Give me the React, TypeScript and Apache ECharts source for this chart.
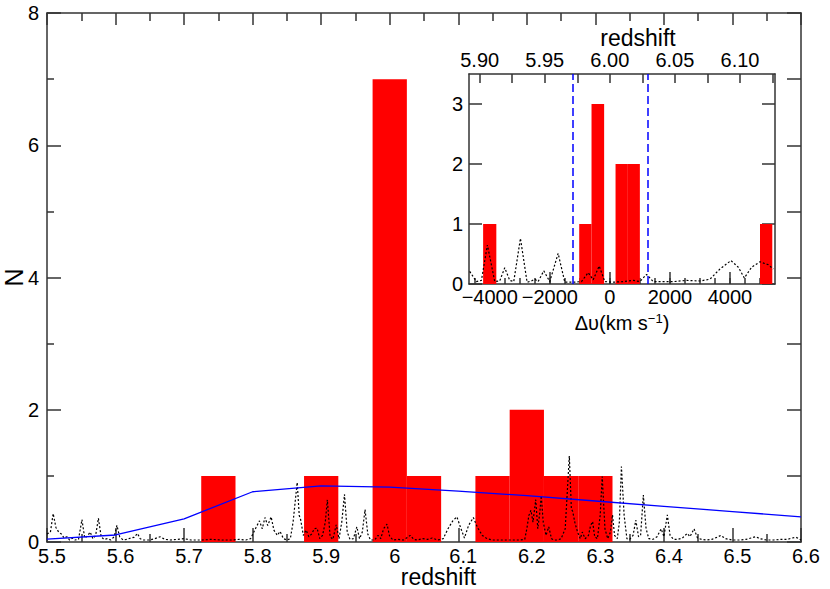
import React, { useEffect, useRef } from "react";
import * as echarts from "echarts";

// ---------- Main panel data ----------
const mainBinCenters = [5.75, 5.9, 6.0, 6.05, 6.15, 6.2, 6.25, 6.3];
const mainBinCounts = [1, 1, 7, 1, 1, 2, 1, 1];
const mainBinWidth = 0.05;

const expectedZ = [5.5, 5.6, 5.7, 5.8, 5.9, 6.0, 6.1, 6.2, 6.3, 6.4, 6.5, 6.6];
const expectedN = [0.045, 0.106, 0.35, 0.76, 0.85, 0.83, 0.77, 0.7, 0.62, 0.54, 0.46, 0.38];

const mainSpectrum: [number, number][] = [
  [5.5, 0.12], [5.505, 0.15], [5.509, 0.43], [5.513, 0.22], [5.517, 0.15], [5.521, 0.12],
  [5.525, 0.06], [5.529, 0.08], [5.533, 0.03], [5.537, 0.06], [5.541, 0.03], [5.546, 0.04],
  [5.551, 0.34], [5.555, 0.06], [5.559, 0.09], [5.563, 0.15], [5.567, 0.05], [5.571, 0.1],
  [5.575, 0.36], [5.579, 0.08], [5.583, 0.04], [5.588, 0.05], [5.593, 0.03], [5.598, 0.08],
  [5.602, 0.25], [5.606, 0.08], [5.611, 0.03], [5.617, 0.04], [5.622, 0.06], [5.627, 0.07],
  [5.632, 0.13], [5.636, 0.05], [5.641, 0.03], [5.65, 0.03], [5.657, 0.05], [5.665, 0.08],
  [5.672, 0.04], [5.68, 0.03], [5.69, 0.04], [5.7, 0.05], [5.71, 0.03], [5.725, 0.03],
  [5.74, 0.04], [5.755, 0.03], [5.77, 0.03], [5.78, 0.04], [5.79, 0.03], [5.797, 0.05],
  [5.805, 0.22], [5.81, 0.32], [5.814, 0.2], [5.818, 0.37], [5.822, 0.25], [5.827, 0.38],
  [5.831, 0.18], [5.836, 0.1], [5.84, 0.16], [5.845, 0.05], [5.85, 0.03], [5.855, 0.05],
  [5.859, 0.3], [5.865, 0.9], [5.868, 0.4], [5.87, 0.34], [5.874, 0.1], [5.878, 0.18],
  [5.882, 0.08], [5.886, 0.12], [5.89, 0.2], [5.894, 0.21], [5.898, 0.05], [5.902, 0.1],
  [5.906, 0.3], [5.909, 0.64], [5.913, 0.08], [5.917, 0.04], [5.922, 0.26], [5.926, 0.05],
  [5.93, 0.3], [5.934, 0.72], [5.938, 0.15], [5.942, 0.04], [5.947, 0.05], [5.952, 0.23],
  [5.956, 0.05], [5.96, 0.15], [5.964, 0.49], [5.968, 0.12], [5.972, 0.03], [5.978, 0.03],
  [5.983, 0.1], [5.987, 0.05], [5.991, 0.2], [5.996, 0.27], [6.0, 0.08], [6.005, 0.03],
  [6.012, 0.04], [6.02, 0.03], [6.026, 0.07], [6.03, 0.1], [6.035, 0.04], [6.04, 0.03],
  [6.048, 0.05], [6.055, 0.04], [6.062, 0.06], [6.07, 0.03], [6.078, 0.05], [6.085, 0.2],
  [6.092, 0.32], [6.098, 0.38], [6.104, 0.2], [6.109, 0.06], [6.115, 0.25], [6.122, 0.37],
  [6.128, 0.22], [6.135, 0.1], [6.142, 0.05], [6.15, 0.03], [6.16, 0.03], [6.17, 0.03],
  [6.18, 0.03], [6.19, 0.03], [6.197, 0.04], [6.2, 0.2], [6.203, 0.4], [6.206, 0.48],
  [6.209, 0.3], [6.213, 0.64], [6.216, 0.2], [6.219, 0.45], [6.221, 0.7], [6.224, 0.3],
  [6.228, 0.1], [6.232, 0.23], [6.236, 0.05], [6.24, 0.03], [6.245, 0.03], [6.25, 0.05],
  [6.256, 0.2], [6.262, 1.3], [6.265, 0.5], [6.267, 0.46], [6.27, 0.3], [6.274, 0.15],
  [6.278, 0.05], [6.281, 0.15], [6.285, 0.05], [6.29, 0.1], [6.293, 0.25], [6.296, 0.31],
  [6.299, 0.08], [6.303, 0.05], [6.307, 0.4], [6.31, 0.99], [6.314, 0.2], [6.318, 0.05],
  [6.322, 0.15], [6.325, 0.41], [6.328, 0.1], [6.332, 0.05], [6.335, 0.3], [6.338, 1.14],
  [6.342, 0.4], [6.346, 0.05], [6.35, 0.04], [6.355, 0.1], [6.359, 0.33], [6.363, 0.08],
  [6.366, 0.1], [6.37, 0.71], [6.374, 0.2], [6.378, 0.05], [6.384, 0.04], [6.39, 0.08],
  [6.396, 0.2], [6.4, 0.08], [6.405, 0.41], [6.409, 0.1], [6.414, 0.04], [6.42, 0.04],
  [6.427, 0.06], [6.434, 0.13], [6.438, 0.08], [6.444, 0.2], [6.449, 0.06], [6.455, 0.04],
  [6.462, 0.03], [6.47, 0.04], [6.477, 0.07], [6.483, 0.1], [6.49, 0.05], [6.5, 0.03],
  [6.51, 0.03], [6.52, 0.04], [6.527, 0.06], [6.534, 0.08], [6.54, 0.05], [6.55, 0.03],
  [6.56, 0.03], [6.57, 0.04], [6.58, 0.04], [6.587, 0.06], [6.593, 0.07], [6.6, 0.03],
];

// ---------- Inset data (velocity offset, km/s) ----------
const insetBinStart = [-4220, -1020, -610, 190, 600, 5000];
const insetBinEnd = [-3780, -610, -190, 600, 1000, 5410];
const insetCounts = [1, 1, 3, 2, 2, 1];

const insetSpectrum: [number, number][] = [
  [-4667, 0.21], [-4443, 0.04], [-4277, 0.06], [-4077, 0.65], [-3833, 0.04], [-3667, 0.05],
  [-3500, 0.27], [-3333, 0.06], [-3200, 0.04], [-2977, 0.76], [-2756, 0.03], [-2611, 0.05],
  [-2500, 0.08], [-2389, 0.04], [-2200, 0.22], [-2000, 0.04], [-1722, 0.51], [-1500, 0.03],
  [-1222, 0.03], [-944, 0.04], [-722, 0.19], [-555, 0.07], [-355, 0.3], [-167, 0.04],
  [111, 0.03], [444, 0.04], [778, 0.06], [1000, 0.04], [1222, 0.16], [1444, 0.04],
  [2111, 0.04], [2555, 0.06], [3000, 0.05], [3333, 0.08], [3667, 0.25], [4033, 0.39],
  [4278, 0.28], [4478, 0.1], [4722, 0.28], [5000, 0.37], [5278, 0.32], [5444, 0.25],
];

const windowEdges = [-1250, 1250];

const insetVelLabels = [-4000, -2000, 0, 2000, 4000];
const insetVelMinorTicks = [-4500, -4000, -3500, -3000, -2500, -2000, -1500, -1000, -500, 0, 500, 1000, 1500, 2000, 2500, 3000, 3500, 4000, 4500, 5000];
const insetZLabels = [5.9, 5.95, 6.0, 6.05, 6.1];
const insetZTicks = [5.9, 5.925, 5.95, 5.975, 6.0, 6.025, 6.05, 6.075, 6.1, 6.125];
const insetNTicks = [0, 1, 2, 3];

const FONT = "Liberation Sans, Arial, Helvetica, sans-serif";
const AX = "#333";

export default function App() {
  const ref = useRef<HTMLDivElement>(null);
  useEffect(() => {
    if (!ref.current) return;
    const chart = echarts.init(ref.current, undefined, { renderer: "svg" });

    const barRender = (color: string) => (params: any, api: any) => {
      const p0 = api.coord([api.value(0), 0]);
      const p1 = api.coord([api.value(1), api.value(2)]);
      return {
        type: "rect",
        shape: { x: p0[0], y: p1[1], width: p1[0] - p0[0], height: p0[1] - p1[1] },
        style: { fill: color },
      };
    };

    const mainBins = mainBinCenters.map((c, i) => [c - mainBinWidth / 2, c + mainBinWidth / 2, mainBinCounts[i]]);
    const insetBins = insetBinStart.map((s, i) => [s, insetBinEnd[i], insetCounts[i]]);

    const lineAx = { show: true, onZero: false, lineStyle: { color: AX, width: 1.5 } };
    const lbl = { color: "#000", fontSize: 20, lineHeight: 16, fontFamily: FONT, hideOverlap: false };
    const tickStyle = { color: AX, width: 1.5 };
    const titleStyle = { color: "#000", fontSize: 23, lineHeight: 18, fontFamily: FONT };

    const option: any = {
      animation: false,
      backgroundColor: "#fff",
      grid: [
        { left: 47, top: 13, width: 754, height: 529, containLabel: false, outerBoundsMode: "none" },
        { left: 469, top: 74, width: 306, height: 210, containLabel: false, outerBoundsMode: "none" },
      ],
      xAxis: [
        {
          gridIndex: 0, type: "value", position: "bottom", min: 5.5, max: 6.6, interval: 0.1,
          axisLine: lineAx,
          axisTick: { show: true, inside: true, length: 14, lineStyle: tickStyle },
          minorTick: { show: true, splitNumber: 2, length: 8, lineStyle: tickStyle },
          splitLine: { show: false }, minorSplitLine: { show: false },
          axisLabel: { ...lbl, margin: 6, padding: [0, 0, 0, 10] },
          name: "redshift", nameLocation: "middle", nameGap: 26, nameMoveOverlap: false,
          nameTextStyle: { ...titleStyle, padding: [0, 0, 0, 29] },
        },
        {
          gridIndex: 0, type: "value", position: "top", min: 5.5, max: 6.6, interval: 0.1,
          axisLine: lineAx,
          axisTick: { show: true, inside: true, length: 12, lineStyle: tickStyle },
          minorTick: { show: true, splitNumber: 2, length: 8, lineStyle: tickStyle },
          splitLine: { show: false }, axisLabel: { show: false },
        },
        {
          gridIndex: 1, type: "value", position: "bottom", min: -4690, max: 5500,
          axisLine: lineAx,
          axisTick: { show: true, inside: true, length: 12, customValues: insetVelLabels, lineStyle: tickStyle },
          splitLine: { show: false },
          axisLabel: {
            ...lbl, margin: 5, customValues: insetVelLabels,
            formatter: (v: number) => (v < 0 ? "\u2212" + Math.abs(v) : String(v)),
          },
          name: "{a|\u0394\u03c5(km s}{sup|\u22121}{a|)}", nameLocation: "middle", nameGap: 28, nameMoveOverlap: false,
          nameTextStyle: {
            color: "#000", fontFamily: FONT,
            rich: {
              a: { fontSize: 20, fontFamily: FONT, color: "#000" },
              sup: { fontSize: 13, fontFamily: FONT, color: "#000", verticalAlign: "top", padding: [0, 0, 8, 0] },
            },
          },
        },
        {
          gridIndex: 1, type: "value", position: "bottom", min: -4690, max: 5500,
          axisLine: { show: false },
          axisTick: { show: true, inside: true, length: 6, customValues: insetVelMinorTicks, lineStyle: tickStyle },
          splitLine: { show: false }, axisLabel: { show: false },
        },
        {
          gridIndex: 1, type: "value", position: "top", min: 5.8918, max: 6.1269,
          axisLine: lineAx,
          axisTick: { show: true, inside: true, length: 9, customValues: insetZTicks, lineStyle: tickStyle },
          splitLine: { show: false },
          axisLabel: { ...lbl, margin: 6, customValues: insetZLabels, formatter: (v: number) => v.toFixed(2) },
          name: "redshift", nameLocation: "middle", nameGap: 27, nameMoveOverlap: false,
          nameTextStyle: { ...titleStyle, padding: [0, 0, 0, 32] },
        },
      ],
      yAxis: [
        {
          gridIndex: 0, type: "value", position: "left", min: 0, max: 8, interval: 2,
          axisLine: lineAx,
          axisTick: { show: true, inside: true, length: 14, lineStyle: tickStyle },
          minorTick: { show: true, splitNumber: 2, length: 7, lineStyle: tickStyle },
          splitLine: { show: false }, minorSplitLine: { show: false },
          axisLabel: { ...lbl, margin: 8 },
          name: "N", nameLocation: "middle", nameGap: 24, nameRotate: 90, nameMoveOverlap: false,
          nameTextStyle: { ...titleStyle, fontSize: 25 },
        },
        {
          gridIndex: 0, type: "value", position: "right", min: 0, max: 8, interval: 1,
          axisLine: lineAx,
          axisTick: { show: true, inside: true, length: 14, lineStyle: tickStyle },
          splitLine: { show: false }, axisLabel: { show: false },
        },
        {
          gridIndex: 1, type: "value", position: "left", min: 0, max: 3.5,
          axisLine: lineAx,
          axisTick: { show: true, inside: true, length: 13, customValues: insetNTicks, lineStyle: tickStyle },
          splitLine: { show: false },
          axisLabel: { ...lbl, margin: 6, customValues: insetNTicks },
        },
        {
          gridIndex: 1, type: "value", position: "right", min: 0, max: 3.5,
          axisLine: lineAx,
          axisTick: { show: true, inside: true, length: 13, customValues: insetNTicks, lineStyle: tickStyle },
          splitLine: { show: false }, axisLabel: { show: false },
        },
      ],
      series: [
        {
          type: "custom", xAxisIndex: 0, yAxisIndex: 0, renderItem: barRender("#ff0000"),
          encode: { x: [0, 1], y: 2 }, data: mainBins, z: 1,
        },
        {
          type: "line", xAxisIndex: 0, yAxisIndex: 0, symbol: "none", z: 3,
          lineStyle: { color: "#0000ff", width: 1.3 },
          data: expectedZ.map((z, i) => [z, expectedN[i]]),
        },
        {
          type: "line", xAxisIndex: 0, yAxisIndex: 0, symbol: "none", z: 2,
          lineStyle: { color: "#000", width: 1.2, type: [2, 2] },
          data: mainSpectrum,
        },
        {
          type: "custom", xAxisIndex: 2, yAxisIndex: 2, renderItem: barRender("#ff0000"),
          encode: { x: [0, 1], y: 2 }, data: insetBins, z: 1,
        },
        {
          type: "line", xAxisIndex: 2, yAxisIndex: 2, symbol: "none", z: 2,
          lineStyle: { color: "#000", width: 1.2, type: [2, 2] },
          data: insetSpectrum,
          markLine: {
            silent: true, symbol: ["none", "none"], label: { show: false },
            lineStyle: { color: "#0000ff", type: [8, 4], width: 1.5 },
            data: windowEdges.map((v) => ({ xAxis: v })),
          },
        },
      ],
    };
    chart.setOption(option);
    return () => chart.dispose();
  }, []);
  return <div ref={ref} style={{ width: 830, height: 589, position: "absolute", left: 0, top: 0 }} />;
}
